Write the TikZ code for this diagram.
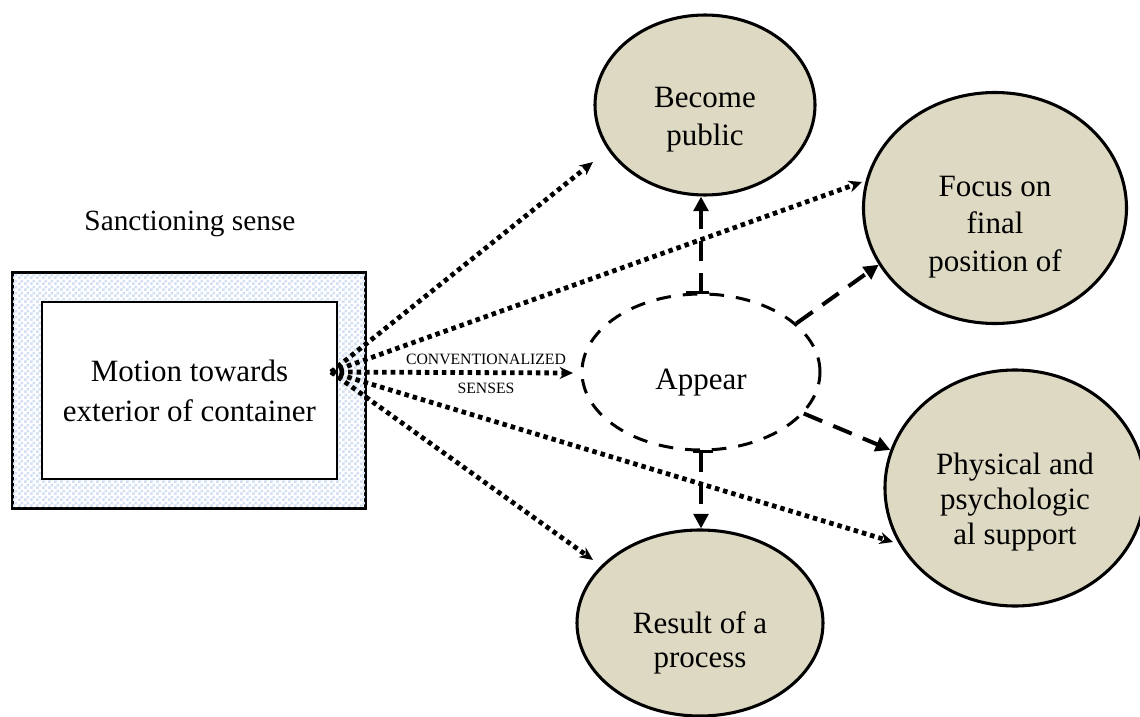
\documentclass[tikz,border=0pt]{standalone}
\usepackage{fontspec}
\setmainfont{Liberation Serif}
\usetikzlibrary{shapes.geometric,arrows.meta,patterns}
\definecolor{bub}{HTML}{DDD9C3}
\definecolor{chkblue}{HTML}{D3DFF3}
\pgfdeclarepatternformonly{chk}{\pgfpointorigin}{\pgfpoint{4.5pt}{4.5pt}}{\pgfpoint{4.5pt}{4.5pt}}{%
  \pgfpathrectangle{\pgfpointorigin}{\pgfpoint{2.25pt}{2.25pt}}%
  \pgfpathrectangle{\pgfpoint{2.25pt}{2.25pt}}{\pgfpoint{2.25pt}{2.25pt}}%
  \pgfusepath{fill}}
\begin{document}
\begin{tikzpicture}[x=0.75pt,y=-0.75pt,
  bubble/.style={ellipse,draw,line width=2.3pt,fill=bub,inner sep=0pt},
  txt/.style={align=center,font=\rmfamily\fontsize{23.25}{#1}\selectfont,inner sep=0pt},
  txt/.default=28pt,
  dotarrow/.style={line width=3.6pt,dash pattern=on 3.4pt off 3pt,-{Stealth[length=10pt,width=9pt]}},
  dasharrow/.style={line width=3pt,dash pattern=on 15pt off 9pt,-{Triangle[length=11pt,width=11pt]}}]
\useasboundingbox (0,0) rectangle (1140,717);

% sanctioning sense
\node[anchor=base,font=\rmfamily\fontsize{22}{26}\selectfont,inner sep=0pt] (sanc) at (190,230) {Sanctioning sense};

% framed box
\node[draw,line width=1.5pt,fill=white,minimum width=264pt,minimum height=176.25pt,inner sep=0pt] (frame) at (189,390.5) {};
\fill[pattern=chk,pattern color=chkblue] (frame.south west) rectangle (frame.north east);
\draw[line width=1.5pt] (frame.south west) rectangle (frame.north east);
\node[draw,line width=1.5pt,fill=white,minimum width=221.25pt,minimum height=132.75pt,inner sep=0pt,txt=30pt] (motion) at (189.5,390.5) {Motion towards\\exterior of container};

% bubbles
\node[bubble,minimum width=165pt,minimum height=135pt,
  label={[txt=28.5pt,name=becomeT,yshift=-11.25pt]center:Become\\public}] (become) at (705,105) {};
\node[bubble,minimum width=197.25pt,minimum height=173.25pt,
  label={[txt=28pt,name=focusT,yshift=-14.25pt]center:Focus on\\final\\position of}] (focus) at (995,208) {};
\node[bubble,minimum width=195pt,minimum height=177pt,
  label={[txt=26pt,name=physT,yshift=-10.5pt]center:Physical and\\psychologic\\al support}] (phys) at (1015,488) {};
\node[bubble,minimum width=184.5pt,minimum height=139.5pt,
  label={[txt=25pt,name=resultT,yshift=-15pt]center:Result of a\\process}] (result) at (700,623) {};

% appear
\node[ellipse,draw,line width=2.25pt,dash pattern=on 11pt off 9pt,minimum width=178.5pt,minimum height=117pt,inner sep=0pt,
  label={[txt,name=appearT,yshift=-8.25pt]center:Appear}] (appear) at (701,372) {};
\draw[line width=2.25pt] ([xshift=-11pt]appear.north) -- ([xshift=6pt]appear.north);
\draw[line width=2.25pt] ([xshift=-6pt]appear.south) -- ([xshift=9pt]appear.south);

% dotted arrows
\coordinate (src) at (331,372);
\coordinate (tBecome) at (593,162);
\coordinate (tFocus) at (862,182);
\coordinate (tAppear) at (573,373);
\coordinate (tPhys) at (893,542);
\coordinate (tResult) at (593,560);
\draw[dotarrow] (src) -- (tBecome);
\draw[dotarrow] (src) -- (tFocus);
\draw[dotarrow] (src) -- (tAppear);
\draw[dotarrow] (src) -- (tPhys);
\draw[dotarrow] (src) -- (tResult);
\node[align=center,font=\rmfamily\fontsize{11.8}{21.75}\selectfont,inner sep=0pt] (conv) at (486,374) {CONVENTIONALIZED\\SENSES};

% dashed arrows
\draw[dasharrow] (appear.north) -- (appear.north |- become.south);
\draw[dasharrow] (appear.27) -- (focus.206);
\draw[dasharrow] (appear.338) -- (phys.163);
\draw[dasharrow] (appear.south) -- (appear.south |- result.north);
\end{tikzpicture}
\end{document}
